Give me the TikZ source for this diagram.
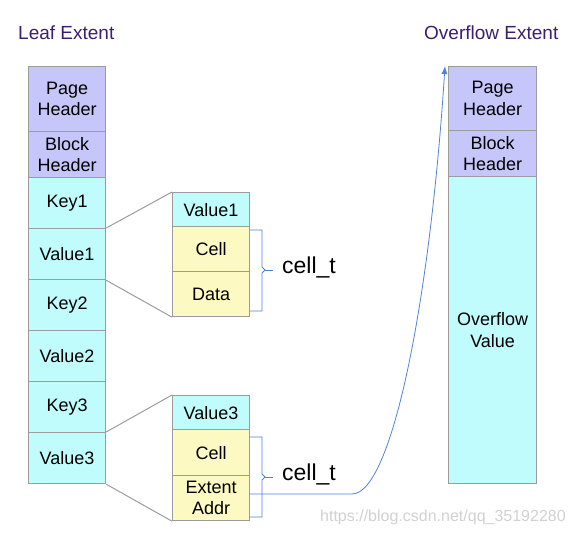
\documentclass[tikz,border=0pt]{standalone}
\usepackage{fontspec}
\setmainfont{Liberation Sans}
\usetikzlibrary{arrows.meta}
\definecolor{hdr}{HTML}{C6C6FA}
\definecolor{cyanc}{HTML}{C0FCFC}
\definecolor{yel}{HTML}{FCF9C2}
\definecolor{bord}{HTML}{9C9C9C}
\definecolor{titlec}{HTML}{3C1E6E}
\definecolor{bluec}{HTML}{5282D8}
\begin{document}
\begin{tikzpicture}[x=1pt,y=-1pt,
  cellbox/.style={draw=bord, line width=1.2pt, anchor=north west, inner sep=0pt, align=center, font=\fontsize{18}{21.5}\selectfont},
  lcol/.style={cellbox, minimum width=77, minimum height=51},
  mcol/.style={cellbox, minimum width=77},
  rcol/.style={cellbox, minimum width=88},
  title/.style={text=titlec, font=\fontsize{19}{22}\selectfont, inner sep=0pt, anchor=west},
  zoomline/.style={draw=bord, line width=1pt},
  bracel/.style={draw=bluec, line width=0.8pt},
  celltext/.style={font=\fontsize{23}{25}\selectfont, inner sep=0pt, anchor=west}]
\useasboundingbox (0,0) rectangle (572,535);

% titles
\node[title] (t1) at (18,33) {Leaf Extent};
\node[title] (t2) at (424,33) {Overflow Extent};

% left column
\node[cellbox, fill=hdr, minimum width=77, minimum height=65] (lph) at (28,66) {Page\\Header};
\node[cellbox, fill=hdr, minimum width=77, minimum height=46] (lbh) at (28,131) {Block\\Header};
\node[lcol, fill=cyanc] (k1) at (28,177) {Key1};
\node[lcol, fill=cyanc] (v1) at (28,228) {Value1};
\node[lcol, fill=cyanc] (k2) at (28,279) {Key2};
\node[lcol, fill=cyanc] (v2) at (28,330) {Value2};
\node[lcol, fill=cyanc] (k3) at (28,381) {Key3};
\node[lcol, fill=cyanc] (v3) at (28,432) {Value3};

% middle top
\node[mcol, fill=cyanc, minimum height=34] (m1) at (172,192) {Value1};
\node[mcol, fill=yel, minimum height=45] (c1) at (172,226) {Cell};
\node[mcol, fill=yel, minimum height=45] (d1) at (172,271) {Data};

% middle bottom
\node[mcol, fill=cyanc, minimum height=34] (m3) at (172,395) {Value3};
\node[mcol, fill=yel, minimum height=46] (c3) at (172,429) {Cell};
\node[mcol, fill=yel, minimum height=45] (ea) at (172,475) {Extent\\Addr};

% right column
\node[rcol, fill=hdr, minimum height=64] (rph) at (448,66) {Page\\Header};
\node[rcol, fill=hdr, minimum height=46] (rbh) at (448,130) {Block\\Header};
\node[rcol, fill=cyanc, minimum height=307] (ov) at (448,176) {Overflow\\Value};

% zoom lines
\draw[zoomline] (v1.north east) -- (m1.north west);
\draw[zoomline] (v1.south east) -- (d1.south west);
\draw[zoomline] (v3.north east) -- (m3.north west);
\draw[zoomline] (v3.south east) -- (ea.south west);

% braces
\draw[bracel] (250,230) -- (262,230) -- (262,267) -- (265,270) -- (262,273) -- (262,311) -- (250,311);
\draw[bracel] (265,270) -- (273,270);
\node[celltext] (ct1) at (282,267) {cell\_t};

\draw[bracel] (250,437) -- (262,437) -- (262,474) -- (265,477) -- (262,480) -- (262,517) -- (250,517);
\draw[bracel] (265,477) -- (273,477);
\node[celltext] (ct3) at (282,474) {cell\_t};

% pointer curve
\coordinate (tip) at (445,66);
\coordinate (bend) at (352,494);
\draw[draw=bluec, line width=0.8pt, -{Latex[length=8pt,width=6pt]}]
  (ea.east |- bend) -- (bend) .. controls (392,494) and (430,300) .. (tip);

% watermark
\node[text=black!18, font=\fontsize{16}{18}\selectfont, inner sep=0pt, anchor=west] (wm) at (320,517) {https://blog.csdn.net/qq\_35192280};
\end{tikzpicture}
\end{document}
